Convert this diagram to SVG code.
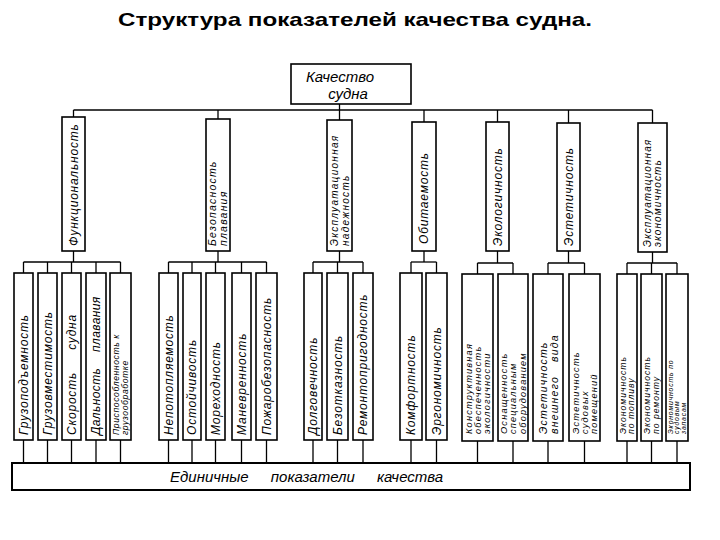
<svg xmlns="http://www.w3.org/2000/svg" width="720" height="540" viewBox="0 0 720 540">
<style>
.bg{fill:#fff}
.box{fill:#fff;stroke:#000;stroke-width:1.6}
.ln{stroke:#000;stroke-width:1.3;fill:none}
.t{font-family:"Liberation Sans","DejaVu Sans",sans-serif;font-style:italic;fill:#000}
.s1{font-size:12px;letter-spacing:0.8px}
.s2{font-size:10px;letter-spacing:1.2px}
.s3{font-size:9.2px;letter-spacing:1.2px}
.s4{font-size:8.6px;letter-spacing:1px}
.g2{font-size:10.5px;letter-spacing:1.2px}
.title{font-family:"Liberation Sans","DejaVu Sans",sans-serif;font-weight:bold;font-size:19px;fill:#000}
</style>
<rect class="bg" width="720" height="540"/>
<text class="title" x="355" y="26" text-anchor="middle" textLength="474" lengthAdjust="spacingAndGlyphs">Структура показателей качества судна.</text>

<g id="connectors">
<line class="ln" x1="339.5" y1="104" x2="339.5" y2="120"/>
<line class="ln" x1="73.5" y1="110" x2="652.5" y2="110"/>
<line class="ln" x1="73.5" y1="110" x2="73.5" y2="117"/>
<line class="ln" x1="218" y1="110" x2="218" y2="119"/>
<line class="ln" x1="424" y1="110" x2="424" y2="122"/>
<line class="ln" x1="497.5" y1="110" x2="497.5" y2="122"/>
<line class="ln" x1="568.5" y1="110" x2="568.5" y2="123"/>
<line class="ln" x1="652.5" y1="110" x2="652.5" y2="123"/>
<line class="ln" x1="73.5" y1="251" x2="73.5" y2="262"/>
<line class="ln" x1="23.5" y1="262" x2="120.5" y2="262"/>
<path class="ln" d="M23.5 262V273M47.5 262V273M71.5 262V273M96 262V273M120.5 262V273"/>
<line class="ln" x1="218" y1="251" x2="218" y2="262"/>
<line class="ln" x1="168.5" y1="262" x2="266.5" y2="262"/>
<path class="ln" d="M168.5 262V273M192 262V273M215.5 262V273M241.5 262V273M266.5 262V273"/>
<line class="ln" x1="339.5" y1="251" x2="339.5" y2="262"/>
<line class="ln" x1="313" y1="262" x2="363" y2="262"/>
<path class="ln" d="M313 262V273M337.5 262V273M363 262V273"/>
<line class="ln" x1="424" y1="251" x2="424" y2="262"/>
<line class="ln" x1="411" y1="262" x2="436.5" y2="262"/>
<path class="ln" d="M411 262V273M436.5 262V273"/>
<line class="ln" x1="497.5" y1="251" x2="497.5" y2="263"/>
<line class="ln" x1="477.5" y1="263" x2="513" y2="263"/>
<path class="ln" d="M477.5 263V274M513 263V274"/>
<line class="ln" x1="568.5" y1="251" x2="568.5" y2="263"/>
<line class="ln" x1="548" y1="263" x2="584.5" y2="263"/>
<path class="ln" d="M548 263V274M584.5 263V274"/>
<line class="ln" x1="652.5" y1="252" x2="652.5" y2="263"/>
<line class="ln" x1="627" y1="263" x2="677" y2="263"/>
<path class="ln" d="M627 263V274M651.5 263V274M677 263V274"/>
<path class="ln" d="M23.5 440V463M47.5 440V463M71.5 440V463M96 440V463M120.5 440V463M168.5 440V463M192 440V463M215.5 440V463M241.5 440V463M266.5 440V463M313 440V463M337.5 440V463M363 440V463M411 440V463M436.5 440V463M477.5 441V463M513 441V463M548 441V463M584.5 441V463M627 441V463M651.5 441V463M677 441V463"/>
</g>

<g id="root">
<rect class="box" x="291" y="64" width="120" height="40"/>
<text class="t" x="340" y="82" font-size="15" text-anchor="middle">Качество</text>
<text class="t" x="348" y="99" font-size="15" text-anchor="middle">судна</text>
</g>

<g id="grp1"><rect class="box" x="62" y="117" width="23" height="134"/>
<text class="t s1" transform="translate(73.5,246) rotate(-90)" y="4.2">Функциональность</text></g>
<g id="grp2"><rect class="box" x="206" y="119" width="24" height="132"/>
<text class="t g2" transform="translate(218,246) rotate(-90)"><tspan x="0" y="-2">Безопасность</tspan><tspan x="0" y="9">плавания</tspan></text></g>
<g id="grp3"><rect class="box" x="327" y="120" width="25" height="131"/>
<text class="t g2" transform="translate(339.5,246) rotate(-90)" style="font-size:10px;letter-spacing:1.3px"><tspan x="0" y="-2">Эксплуатационная</tspan><tspan x="0" y="9">надежность</tspan></text></g>
<g id="grp4"><rect class="box" x="412" y="122" width="24" height="129"/>
<text class="t s1" transform="translate(424,244) rotate(-90)" y="4.2">Обитаемость</text></g>
<g id="grp5"><rect class="box" x="486" y="122" width="23" height="129"/>
<text class="t s1" transform="translate(497.5,246) rotate(-90)" y="4.2">Экологичность</text></g>
<g id="grp6"><rect class="box" x="557" y="123" width="23" height="128"/>
<text class="t s1" transform="translate(568.5,246) rotate(-90)" y="4.2">Эстетичность</text></g>
<g id="grp7"><rect class="box" x="638" y="123" width="29" height="129"/>
<text class="t g2" transform="translate(652.5,247) rotate(-90)" style="font-size:10px;letter-spacing:1.1px"><tspan x="0" y="-2">Эксплуатационная</tspan><tspan x="0" y="8.8">экономичность</tspan></text></g>

<g id="leaf1"><rect class="box" x="14" y="273" width="19" height="167"/>
<text class="t s1" transform="translate(23.5,435) rotate(-90)" y="4.2">Грузоподъемность</text></g>
<g id="leaf2"><rect class="box" x="38" y="273" width="19" height="167"/>
<text class="t s1" transform="translate(47.5,435) rotate(-90)" y="4.2">Грузовместимость</text></g>
<g id="leaf3"><rect class="box" x="62" y="273" width="19" height="167"/>
<text class="t s1" transform="translate(71.5,435) rotate(-90)" y="4.2" word-spacing="18">Скорость судна</text></g>
<g id="leaf4"><rect class="box" x="86" y="273" width="20" height="167"/>
<text class="t s1" transform="translate(96,435) rotate(-90)" y="4.2" style="letter-spacing:0.4px" word-spacing="12">Дальность плавания</text></g>
<g id="leaf5"><rect class="box" x="110" y="273" width="21" height="167"/>
<text class="t s4" transform="translate(120.5,435) rotate(-90)" style="letter-spacing:0.6px"><tspan x="0" y="-1.5">Приспособленность к</tspan><tspan x="0" y="7.5">грузообработке</tspan></text></g>

<g id="leaf6"><rect class="box" x="159" y="273" width="19" height="167"/>
<text class="t s1" transform="translate(168.5,435) rotate(-90)" y="4.2">Непотопляемость</text></g>
<g id="leaf7"><rect class="box" x="183" y="273" width="18" height="167"/>
<text class="t s1" transform="translate(192,435) rotate(-90)" y="4.2">Остойчивость</text></g>
<g id="leaf8"><rect class="box" x="206" y="273" width="19" height="167"/>
<text class="t s1" transform="translate(215.5,435) rotate(-90)" y="4.2">Мореходность</text></g>
<g id="leaf9"><rect class="box" x="232" y="273" width="19" height="167"/>
<text class="t s1" transform="translate(241.5,435) rotate(-90)" y="4.2">Маневренность</text></g>
<g id="leaf10"><rect class="box" x="256" y="273" width="21" height="167"/>
<text class="t s1" transform="translate(266.5,435) rotate(-90)" y="4.2">Пожаробезопасность</text></g>

<g id="leaf11"><rect class="box" x="304" y="273" width="18" height="167"/>
<text class="t s1" transform="translate(313,435) rotate(-90)" y="4.2">Долговечность</text></g>
<g id="leaf12"><rect class="box" x="327" y="273" width="21" height="167"/>
<text class="t s1" transform="translate(337.5,435) rotate(-90)" y="4.2">Безотказность</text></g>
<g id="leaf13"><rect class="box" x="353" y="273" width="20" height="167"/>
<text class="t s1" transform="translate(363,435) rotate(-90)" y="4.2">Ремонтопригодность</text></g>

<g id="leaf14"><rect class="box" x="400" y="273" width="22" height="167"/>
<text class="t s1" transform="translate(411,435) rotate(-90)" y="4.2">Комфортность</text></g>
<g id="leaf15"><rect class="box" x="426" y="273" width="21" height="167"/>
<text class="t s1" transform="translate(436.5,435) rotate(-90)" y="4.2">Эргономичность</text></g>

<g id="leaf16"><rect class="box" x="462" y="274" width="31" height="167"/>
<text class="t s3" transform="translate(477.5,434) rotate(-90)"><tspan x="0" y="-5.8">Конструктивная</tspan><tspan x="0" y="3.4">обеспеченность</tspan><tspan x="0" y="12.6">экологичности</tspan></text></g>
<g id="leaf17"><rect class="box" x="498" y="274" width="30" height="167"/>
<text class="t s3" transform="translate(513,434) rotate(-90)"><tspan x="0" y="-5.8">Оснащенность</tspan><tspan x="0" y="3.4">специальным</tspan><tspan x="0" y="12.6">оборудованием</tspan></text></g>

<g id="leaf18"><rect class="box" x="533" y="274" width="30" height="167"/>
<text class="t s2" transform="translate(548,434) rotate(-90)" style="font-size:10.5px" word-spacing="10"><tspan x="0" y="-1.5">Эстетичность</tspan><tspan x="0" y="9.5">внешнего вида</tspan></text></g>
<g id="leaf19"><rect class="box" x="569" y="274" width="31" height="167"/>
<text class="t s3" transform="translate(584.5,434) rotate(-90)"><tspan x="0" y="-5.8">Эстетичность</tspan><tspan x="0" y="3.4">судовых</tspan><tspan x="0" y="12.6">помещений</tspan></text></g>

<g id="leaf20"><rect class="box" x="617" y="274" width="20" height="167"/>
<text class="t s4" transform="translate(627,434) rotate(-90)"><tspan x="0" y="-1.5">Экономичность</tspan><tspan x="0" y="7.3">по топливу</tspan></text></g>
<g id="leaf21"><rect class="box" x="641" y="274" width="21" height="167"/>
<text class="t s4" transform="translate(651.5,434) rotate(-90)"><tspan x="0" y="-1.5">Экономичность</tspan><tspan x="0" y="7.3">по ремонту</tspan></text></g>
<g id="leaf22"><rect class="box" x="666" y="274" width="22" height="167"/>
<text class="t" transform="translate(677,434) rotate(-90)" style="font-size:6.9px;letter-spacing:0.8px"><tspan x="0" y="-4.4">Экономичность по</tspan><tspan x="0" y="2.4">судовым</tspan><tspan x="0" y="9.2">запасам</tspan></text></g>

<g id="bottom"><rect class="box" x="12" y="463" width="678" height="27" style="stroke-width:2"/>
<text class="t" x="170" y="482" font-size="15" word-spacing="18">Единичные показатели качества</text></g>
</svg>
